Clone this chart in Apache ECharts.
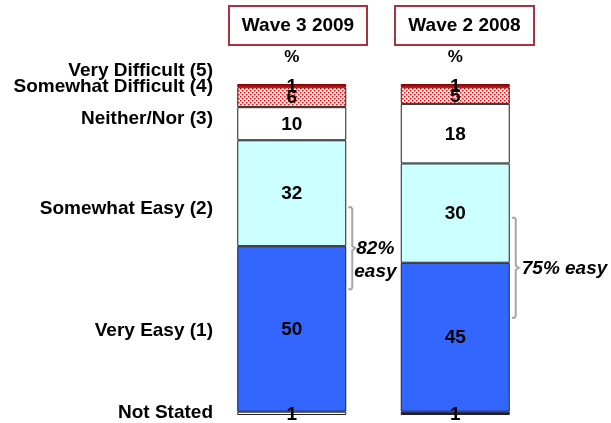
<!DOCTYPE html>
<html><head><meta charset="utf-8">
<script src="https://cdn.jsdelivr.net/npm/echarts@6/dist/echarts.min.js"></script>
<style>html,body{margin:0;background:#fff}#c{width:611px;height:423px}</style>
</head><body><div id="c"></div>
<script>
// Survey waves and stacked shares (%)
const waves = ['Wave 3 2009', 'Wave 2 2008'];
const notStated = [1, 1];
const veryEasy = [50, 45];
const somewhatEasy = [32, 30];
const neitherNor = [10, 18];
const somewhatDifficult = [6, 5];
const veryDifficult = [1, 1];
const easyTotals = [82, 75];
const rowLabels = ['Very Difficult (5)', 'Somewhat Difficult (4)', 'Neither/Nor (3)',
  'Somewhat Easy (2)', 'Very Easy (1)', 'Not Stated'];

// layout
const FONT = '"Liberation Sans", Arial, sans-serif';
const rowLabelY = [71, 87, 119, 209, 331, 413];
const BAR_W = 109;

// red dotted fill for "Somewhat Difficult"
function dotPattern() {
  const c = document.createElement('canvas');
  c.width = 4; c.height = 4;
  const g = c.getContext('2d');
  g.fillStyle = '#ffe6e6'; g.fillRect(0, 0, 4, 4);
  g.fillStyle = '#f01010';
  g.fillRect(0, 0, 1.5, 1.5);
  g.fillRect(2, 2, 1.5, 1.5);
  return c;
}

const chart = echarts.init(document.getElementById('c'), null, {renderer: 'canvas'});

const labelStyle = {
  show: true, position: 'inside', offset: [0, 1], formatter: '{c}', color: '#000',
  fontFamily: FONT, fontWeight: 'bold', fontSize: 19
};
function seg(name, values, fill, extra) {
  return Object.assign({
    name, type: 'bar', stack: 'total', barWidth: BAR_W,
    data: values.slice(),
    itemStyle: {color: fill, borderColor: '#222', borderWidth: 1},
    label: labelStyle,
    emphasis: {disabled: true}
  }, extra || {});
}

const series = [
  seg('Not Stated', notStated.map((v, i) => ({
    value: v,
    itemStyle: {color: i === 0 ? '#ffffff' : '#0010cc'}
  })), '#ffffff'),
  seg('Very Easy (1)', veryEasy, '#3366ff'),
  seg('Somewhat Easy (2)', somewhatEasy, '#ccffff'),
  seg('Neither/Nor (3)', neitherNor, '#ffffff'),
  seg('Somewhat Difficult (4)', somewhatDifficult, {image: dotPattern(), repeat: 'repeat'}),
  seg('Very Difficult (5)', veryDifficult, '#c00000', {
    itemStyle: {color: '#c00000', borderColor: '#8a0000', borderWidth: 1}
  })
];

chart.setOption({
  animation: false,
  grid: {left: 210, right: 74, top: 84, bottom: 8},
  xAxis: {type: 'category', data: waves, show: false},
  yAxis: {type: 'value', min: 0, max: 100, show: false},
  series
});

// headers, row labels and "easy" brackets
const gfx = [];
const headerBoxes = [{x: 229, w: 138}, {x: 395, w: 139}];
waves.forEach((w, i) => {
  const b = headerBoxes[i];
  gfx.push({
    type: 'rect', shape: {x: b.x, y: 6, width: b.w, height: 39},
    style: {fill: '#fff', stroke: '#a8323e', lineWidth: 2}
  });
  gfx.push({
    type: 'text', x: b.x + b.w / 2, y: 26,
    style: {text: w, fill: '#000', font: 'bold 19px ' + FONT, align: 'center', verticalAlign: 'middle'}
  });
  const cx = chart.convertToPixel({gridIndex: 0}, [i, 0])[0];
  gfx.push({
    type: 'text', x: cx, y: 57,
    style: {text: '%', fill: '#000', font: 'bold 17px ' + FONT, align: 'center', verticalAlign: 'middle'}
  });
});

rowLabels.forEach((t, i) => {
  gfx.push({
    type: 'text', x: 213, y: rowLabelY[i],
    style: {text: t, fill: '#000', font: 'bold 19px ' + FONT, align: 'right', verticalAlign: 'middle'}
  });
});

const bracketHalf = [41, 50];
const bracketShift = [2, 5];
const ITALIC = 'italic bold 19px ' + FONT;
waves.forEach((w, i) => {
  const boundary = notStated[i] + veryEasy[i];
  const p = chart.convertToPixel({gridIndex: 0}, [i, boundary]);
  const right = p[0] + BAR_W / 2;
  const mid = p[1] + bracketShift[i];
  const top = mid - bracketHalf[i], bot = mid + bracketHalf[i];
  const x0 = right + 2, x1 = right + 6;
  gfx.push({
    type: 'polyline',
    shape: {points: [[x0, top], [x1 - 1, top], [x1, top + 2], [x1, mid - 2], [x1 + 3, mid],
      [x1, mid + 2], [x1, bot - 2], [x1 - 1, bot], [x0, bot]]},
    style: {stroke: '#a6a6a6', lineWidth: 2, fill: null}
  });
  if (i === 0) {
    gfx.push({type: 'text', x: x1 + 4, y: mid + 1,
      style: {text: easyTotals[i] + '%', fill: '#000', font: ITALIC, verticalAlign: 'middle'}});
    gfx.push({type: 'text', x: x1 + 2, y: mid + 24,
      style: {text: 'easy', fill: '#000', font: ITALIC, verticalAlign: 'middle'}});
  } else {
    gfx.push({type: 'text', x: x1 + 6, y: mid + 1,
      style: {text: easyTotals[i] + '% easy', fill: '#000', font: ITALIC, verticalAlign: 'middle'}});
  }
});

chart.setOption({graphic: gfx});
</script>
</body></html>
